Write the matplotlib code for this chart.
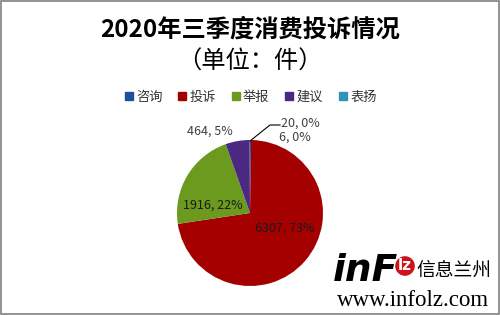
import matplotlib
matplotlib.use("Agg")
import matplotlib.pyplot as plt
from matplotlib.patches import Rectangle
from matplotlib.lines import Line2D

plt.rcParams['font.family'] = ['Noto Sans CJK SC', 'DejaVu Sans']

categories = ['咨询', '投诉', '举报', '建议', '表扬']
values = [20, 6307, 1916, 464, 6]
pct_labels = ['0%', '73%', '22%', '5%', '0%']
colors = ['#1F4E9F', '#A50000', '#6B9A1F', '#4B2882', '#2E95B8']

W, H = 500, 315
fig = plt.figure(figsize=(W / 100, H / 100), dpi=100)
fig.patch.set_facecolor('white')
fig.patches.append(Rectangle((0.002, 0.003), 0.996, 0.994, transform=fig.transFigure,
                             fill=False, edgecolor='#808080', linewidth=1.2))

cx, cy, r = 250, 213, 73
ax = fig.add_axes([(cx - r) / W, (H - cy - r) / H, 2 * r / W, 2 * r / H])
ax.pie(values, colors=colors, startangle=90, counterclock=False,
       wedgeprops=dict(linewidth=0))
ax.set_xlim(-1, 1)
ax.set_ylim(-1, 1)
ax.axis('off')

def d(px, py):
    return ((px - cx) / r, (cy - py) / r)

lab = [f'{v}, {p}' for v, p in zip(values, pct_labels)]
tk = dict(fontsize=9, color='#404040', clip_on=False, zorder=5)
ax.text(*d(300, 123), lab[0], ha='center', va='center', **tk)
ax.text(*d(285, 228), lab[1], ha='center', va='center', fontsize=9, color='#1a1a1a', zorder=5)
ax.text(*d(213, 205), lab[2], ha='center', va='center', fontsize=9, color='#1a1a1a', zorder=5)
ax.text(*d(210, 131), lab[3], ha='center', va='center', **tk)
ax.text(*d(295, 137), lab[4], ha='center', va='center', **tk)
lx, ly = zip(d(250, 141), d(270, 125), d(280, 125))
ax.add_line(Line2D(lx, ly, color='black', linewidth=0.8, clip_on=False))

fig.text(0.5, 1 - 30 / H, '2020年三季度消费投诉情况', ha='center', va='center',
         fontsize=17.5, fontweight='bold', color='black')
fig.text(0.5, 1 - 62 / H, '（单位：件）', ha='center', va='center',
         fontsize=17.5, fontweight='medium', color='black')

handles = [Line2D([], [], marker='s', linestyle='none', markersize=6,
                  markerfacecolor=c, markeredgecolor=c) for c in colors]
fig.legend(handles, categories, loc='center', bbox_to_anchor=(0.5, 1 - 97 / H),
           ncol=5, frameon=False, fontsize=9.5, handlelength=0.8,
           handletextpad=0.15, columnspacing=1.1, labelcolor='#333333')

# watermark
fig.text(333 / W, 1 - 271 / H, 'inF', fontsize=27, fontweight='bold', style='italic',
         color='black', ha='left', va='center', family='DejaVu Sans')
fig.text(405 / W, 1 - 266 / H, 'lz', fontsize=11, fontweight='bold', color='white',
         ha='center', va='center', family='DejaVu Sans',
         bbox=dict(boxstyle='circle,pad=0.15', facecolor='#D0101A', edgecolor='none'))
fig.text(416 / W, 1 - 270 / H, '信息兰州', fontsize=13.5, color='black',
         ha='left', va='center')
fig.text(413 / W, 1 - 300 / H, 'www.infolz.com', fontsize=16.5, color='black',
         ha='center', va='center', family='Liberation Serif')

fig.savefig('out.png', dpi=100)
